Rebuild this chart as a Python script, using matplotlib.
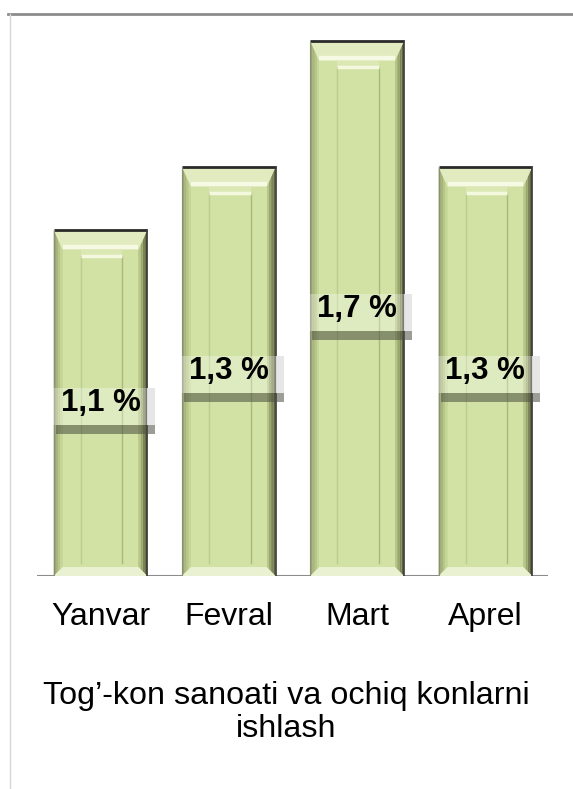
import matplotlib
matplotlib.use("Agg")
import matplotlib.pyplot as plt
from matplotlib.patches import Polygon, Rectangle
from matplotlib.lines import Line2D
import numpy as np

plt.rcParams['font.family'] = ['Liberation Sans', 'DejaVu Sans']

months = ['Yanvar', 'Fevral', 'Mart', 'Aprel']
values = [1.1, 1.3, 1.7, 1.3]
value_labels = ['1,1 %', '1,3 %', '1,7 %', '1,3 %']
title_lines = ['Tog\u2019-kon sanoati va ochiq konlarni', 'ishlash']

# pixel -> data unit factors
sx = 1 / 128.3
sy = 1 / 314.7

fig = plt.figure(figsize=(5.73, 7.89), dpi=100)
ax = fig.add_axes([37 / 573, (789 - 576) / 789, 536 / 573, 563 / 789])
ax.set_xlim(-63.5 * sx, (536 - 63.5) * sx)
ax.set_ylim(0, 563 * sy)
for s in ax.spines.values():
    s.set_visible(False)
ax.set_yticks([])

w = 0.73
bx = 9 * sx     # side bevel
bt = 20 * sy    # top bevel
bb = 9 * sy     # bottom bevel

def mix(c1, c2, t):
    a = np.array(matplotlib.colors.to_rgb(c1))
    b = np.array(matplotlib.colors.to_rgb(c2))
    return tuple(a + (b - a) * t)

x = np.arange(len(months))
for xi, v, lab in zip(x, values, value_labels):
    L, R, T = xi - w / 2, xi + w / 2, v
    ax.add_patch(Rectangle((L, 0), w, T, fc='#cbdc9c', ec='none', zorder=2))
    # left bevel, gradient in strips
    n = 4
    for k in range(n):
        a0, a1 = bx * k / n, bx * (k + 1) / n
        ax.add_patch(Polygon([(L + a0, bb * k / n), (L + a0, T - bt * k / n),
                              (L + a1, T - bt * (k + 1) / n), (L + a1, bb * (k + 1) / n)],
                             closed=True, fc=mix('#98a470', '#c6d696', k / (n - 1)),
                             ec='none', zorder=3))
    # right bevel
    for k in range(n):
        a0, a1 = bx * k / n, bx * (k + 1) / n
        ax.add_patch(Polygon([(R - a0, bb * k / n), (R - a0, T - bt * k / n),
                              (R - a1, T - bt * (k + 1) / n), (R - a1, bb * (k + 1) / n)],
                             closed=True, fc=mix('#5c6540', '#b7c687', k / (n - 1)),
                             ec='none', zorder=3))
    # top bevel
    ax.add_patch(Polygon([(L, T), (R, T), (R - bx, T - bt), (L + bx, T - bt)],
                         closed=True, fc='#e2ebbf', ec='none', zorder=3))
    ax.plot([L + bx, R - bx], [T - bt + 3 * sy] * 2, color='#f6f9e4', lw=3,
            zorder=4, solid_capstyle='butt')
    # bottom bevel
    ax.add_patch(Polygon([(L, 0), (R, 0), (R - bx, bb), (L + bx, bb)],
                         closed=True, fc='#eaf1d2', ec='none', zorder=3))
    # inner panel
    ax.add_patch(Rectangle((L + bx, bb), w - 2 * bx, T - bt - bb,
                           fc='#d1e2a4', ec='none', zorder=3))
    il, ir = L + 27 * sx, R - 25 * sx
    ax.plot([il, il], [bb + 4 * sy, T - bt - 6 * sy], color='#bccb92', lw=1, zorder=4)
    ax.plot([ir, ir], [bb + 4 * sy, T - bt - 6 * sy], color='#a9b880', lw=1, zorder=4)
    ax.plot([il, ir], [T - bt - 6 * sy] * 2, color='#f3f8df', lw=2.5, zorder=4,
            solid_capstyle='butt')
    ax.add_patch(Rectangle((il, T - bt - 6 * sy), ir - il, 6 * sy,
                           fc='#dbe8b4', ec='none', zorder=3.5))
    # outlines
    ax.plot([L, R], [T, T], color='#2a2a2a', lw=2, zorder=5, solid_capstyle='butt')
    ax.plot([R, R], [0, T], color='#3c3c3c', lw=1.2, zorder=5)
    ax.plot([L, L], [0, T], color='#8a8f78', lw=0.8, zorder=5)

    # value label with box and shadow band
    c = v / 2
    bl, br = L - 3 * sx, R + 8 * sx
    ax.add_patch(Rectangle((bl, c - 22 * sy), br - bl, 37 * sy,
                           fc='white', alpha=0.3, ec='none', zorder=6))
    ax.add_patch(Rectangle((R, c - 22 * sy), 8 * sx, 37 * sy,
                           fc='#e4e4e4', alpha=0.9, ec='none', zorder=6))
    ax.add_patch(Rectangle((bl + 5 * sx, c - 31 * sy), br - bl - 5 * sx, 9 * sy,
                           fc='#4a4d40', alpha=0.55, ec='none', zorder=6))
    ax.text(xi, c, lab, ha='center', va='center', fontsize=22.5, fontweight='bold',
            color='black', zorder=7)

ax.axhline(0, xmin=0, xmax=(547 - 37) / 536, color='#8c8c8c', lw=1.5, zorder=1)
ax.set_xticks(x)
ax.set_xticklabels(months, fontsize=23, va='baseline')
ax.tick_params(axis='x', length=0, pad=49 / 1.389)

fig.text(0.5, (789 - 704) / 789, title_lines[0], ha='center', va='baseline', fontsize=23.2)
fig.text(0.5, (789 - 737) / 789, title_lines[1], ha='center', va='baseline', fontsize=23.2)

fig.add_artist(Line2D([8 / 573, 1], [1 - 13.5 / 789] * 2, color='#8c8c8c', lw=2))
fig.add_artist(Line2D([9.5 / 573, 9.5 / 573], [0, 1 - 14 / 789], color='#d6d6d6', lw=1))

fig.savefig('out.png', dpi=100)
